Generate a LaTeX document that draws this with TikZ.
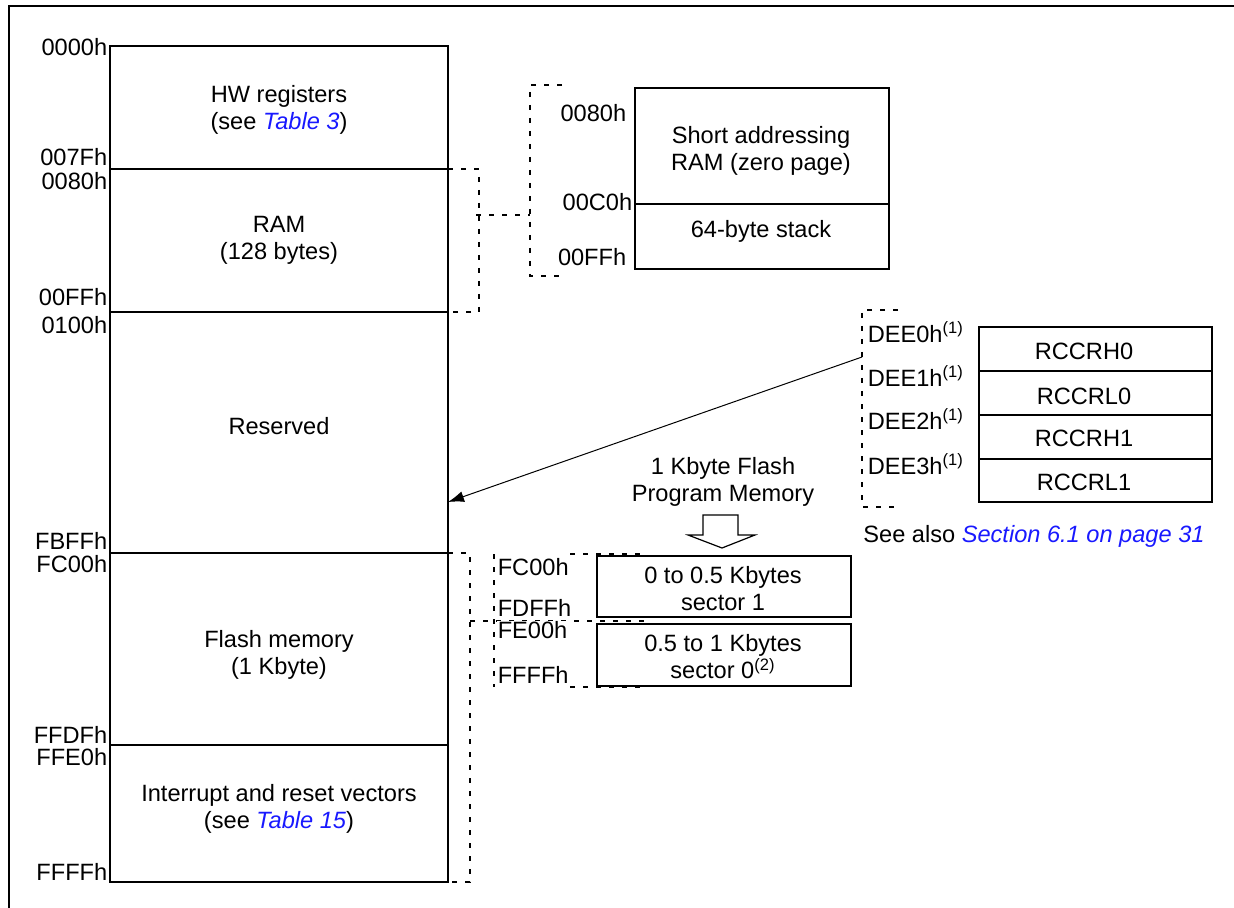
\documentclass[tikz,border=0pt]{standalone}
\usepackage{fontspec}
\setmainfont{Liberation Sans}
\usepackage{tikz}
\usetikzlibrary{arrows.meta,
                calc, %for relative coord calculations
                positioning}

\definecolor{linkblue}{RGB}{25,25,255}
\newcommand{\mapref}[1]{\textcolor{linkblue}{\textit{#1}}}

\begin{document}
\begin{tikzpicture}[x=0.5pt, y=-0.5pt,
                    font=\fontsize{11.8}{13.5}\selectfont,
                    Box/.style={draw, line width=0.85pt},
                    Txt/.style={align=center, inner sep=0pt},
                    Addr/.style={inner sep=0.2pt, fill=white},
                    Guide/.style={line width=0.65pt, dash pattern=on 2.5pt off 4pt},
                    Frame/.style={line width=1.3pt}
                    ]
    \useasboundingbox (0,0) rectangle (1234,908);

    % FRAME %
    \draw[Frame] (9,908) -- (9,6) -- (1234,6);

    % MAIN MAP %
    \draw[Box] (110,46) rectangle (448,882);
    \foreach \y in {169,312,553,745}{
    \draw[Box] (110,\y) -- (448,\y);
    }
    \node[Txt] (hw)    at (279,110) {HW registers\\(see \mapref{Table 3})};
    \node[Txt] (ram)   at (279,240) {RAM\\(128 bytes)};
    \node[Txt] (res)   at (279,426) {Reserved};
    \node[Txt] (flash) at (279,655) {Flash memory\\(1 Kbyte)};
    \node[Txt] (vect)  at (279,809) {Interrupt and reset vectors\\(see \mapref{Table 15})};

    \foreach \y/\t in {47/0000h, 157/007Fh, 181/0080h, 297/00FFh, 325/0100h,
                       541/FBFFh, 564/FC00h, 735/FFDFh, 757/FFE0h, 872/FFFFh}{
    \node[Addr, anchor=east] (m\t) at (108,\y) {\t};
    }

    % ZERO PAGE %
    \draw[Guide] (448,169) -- (479,169) -- (479,312) -- (448,312);
    \draw[Guide] (476,215) -- (530,215);
    \draw[Guide] (562,85) -- (530,85) -- (530,276) -- (562,276);

    \draw[Box] (635,88) rectangle (889,269);
    \draw[Box] (635,204) -- (889,204);
    \node[Txt] (zp)  at (761,151) {Short addressing\\RAM (zero page)};
    \node[Txt] (stk) at (761,231) {64-byte stack};

    \node[Addr, anchor=east] (z0080h) at (627,113) {0080h};
    \node[Addr, anchor=east] (z00C0h) at (633,202) {00C0h};
    \node[Addr, anchor=east] (z00FFh) at (627,257) {00FFh};

    % RC CALIBRATION %
    \draw[Guide] (898,310) -- (862,310) -- (862,507) -- (898,507);
    \draw[Box] (979,327) rectangle (1212,502);
    \foreach \y in {371,415,459}{
    \draw[Box] (979,\y) -- (1212,\y);
    }
    \foreach \y/\t in {351/RCCRH0, 396/RCCRL0, 438/RCCRH1, 482/RCCRL1}{
    \node[Txt] (\t) at (1084,\y) {\t};
    }
    \foreach \y/\t in {334/DEE0h, 378/DEE1h, 421/DEE2h, 466/DEE3h}{
    \node[Addr, anchor=base west] (\t) at (867,\y+8.5) {\t\textsuperscript{(1)}};
    }
    \node[anchor=west, inner sep=0pt] (see) at (863,536)
        {See also \mapref{Section 6.1 on page 31}};

    % ARROW TO RESERVED %
    \coordinate (deeTap) at (862,357);
    \coordinate (resIn) at (448,502);
    \draw[-{Latex[length=8pt,width=5.5pt]}, line width=0.5pt] (deeTap) -- (resIn);

    % FLASH SECTORS %
    \node[Txt] (fpm) at (723,482) {1 Kbyte Flash\\Program Memory};
    \draw[line width=0.6pt, fill=white] (703,515) -- (738,515) -- (738,535) -- (755,535)
        -- (722,548) -- (688,535) -- (703,535) -- cycle;

    \draw[Guide] (448,553) -- (470,553) -- (470,882) -- (448,882);
    \draw[Guide] (470,621) -- (645,621);
    \draw[Guide] (494,554) -- (494,687);
    \draw[Guide] (570,554) -- (647,554);
    \draw[Guide] (570,687) -- (645,687);

    \draw[Box] (597,556) rectangle (851,617);
    \draw[Box] (597,624) rectangle (851,686);
    \node[Txt] (sec1) at (723,589) {0 to 0.5 Kbytes\\sector 1};
    \node[Txt] (sec0) at (723,657) {0.5 to 1 Kbytes\\sector 0\textsuperscript{(2)}};

    \foreach \y/\t in {567/FC00h, 608/FDFFh, 630/FE00h, 675/FFFFh}{
    \node[Addr, anchor=west] (s\t) at (497,\y) {\t};
    }

\end{tikzpicture}
\end{document}
